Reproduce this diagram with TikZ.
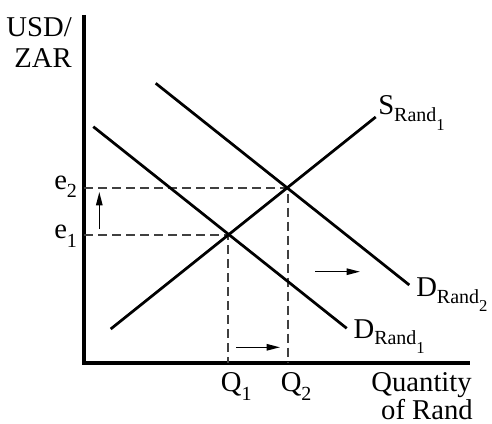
\documentclass[tikz,border=0pt]{standalone}
\usepackage{fontspec}
\setmainfont{Liberation Serif}
\usetikzlibrary{arrows.meta}
\newcommand{\curvelbl}[3]{#1\raisebox{-4.9pt}{\fontsize{15}{15}\selectfont #2\raisebox{-6.5pt}{\fontsize{12.5}{12.5}\selectfont #3}}}
\newcommand{\ticklbl}[2]{#1\raisebox{-6.7pt}{\fontsize{15}{15}\selectfont #2}}
\tikzset{
  axisline/.style={line width=2.3pt, black},
  curveline/.style={line width=2.05pt, black},
  guideline/.style={line width=1.5pt, color=black!75, dash pattern=on 6.75pt off 3.75pt},
  shiftarrow/.style={line width=1.1pt, black, -{Triangle[length=10pt,width=4.8pt]}},
  lbl/.style={inner sep=0pt, font=\fontsize{21.5}{21.5}\selectfont},
}
\begin{document}
\begin{tikzpicture}[x=0.75pt,y=-0.75pt]
\useasboundingbox (0,0) rectangle (492,424);
% axes
\coordinate (O) at (84,363);
\coordinate (Ytop) at (84,15);
\coordinate (Xend) at (470,363);
\draw[axisline] (Ytop) -- (O) -- (Xend);
% equilibrium points
\coordinate (E1) at (228,235);
\coordinate (E2) at (288,187.5);
% guides
\draw[guideline] (O|-E1) -- (E1) -- (E1|-O);
\draw[guideline] (O|-E2) -- (E2) -- (E2|-O);
% curves
\coordinate (s0) at (110.7,329);
\coordinate (s1) at (375.7,117);
\coordinate (d1a) at (93.3,126.7);
\coordinate (d1b) at (346.7,328.3);
\coordinate (d2a) at (155.7,83.3);
\coordinate (d2b) at (409.3,285);
\draw[curveline] (s0) -- (s1);
\draw[curveline] (d1a) -- (d1b);
\draw[curveline] (d2a) -- (d2b);
% shift arrows
\coordinate (va0) at (99.3,229);
\coordinate (va1) at (99.3,192);
\coordinate (ha0) at (236,347.3);
\coordinate (ha1) at (280,347.3);
\coordinate (da0) at (315,271.7);
\coordinate (da1) at (360,271.7);
\draw[shiftarrow] (va0) -- (va1);
\draw[shiftarrow] (ha0) -- (ha1);
\draw[shiftarrow] (da0) -- (da1);
% labels
\node[lbl, anchor=base east] (usd) at (72,36.5) {USD/};
\node[lbl, anchor=base east] (zar) at (72,68) {ZAR};
\node[lbl, anchor=base west] (e2) at (54,189) {\ticklbl{e}{2}};
\node[lbl, anchor=base west] (e1) at (54,238.3) {\ticklbl{e}{1}};
\node[lbl, anchor=base west] (q1) at (220.7,391.7) {\ticklbl{Q}{1}};
\node[lbl, anchor=base west] (q2) at (280.5,391.7) {\ticklbl{Q}{2}};
\node[lbl, anchor=base east] (qty) at (472,391.7) {Quantity};
\node[lbl, anchor=base east] (ofr) at (473,419.5) {of Rand};
\node[lbl, anchor=base west] (slbl) at (378,115) {\curvelbl{S}{Rand}{1}};
\node[lbl, anchor=base west] (d2lbl) at (416,296.7) {\curvelbl{D}{Rand}{2}};
\node[lbl, anchor=base west] (d1lbl) at (353.3,338.3) {\curvelbl{D}{Rand}{1}};
\end{tikzpicture}
\end{document}
